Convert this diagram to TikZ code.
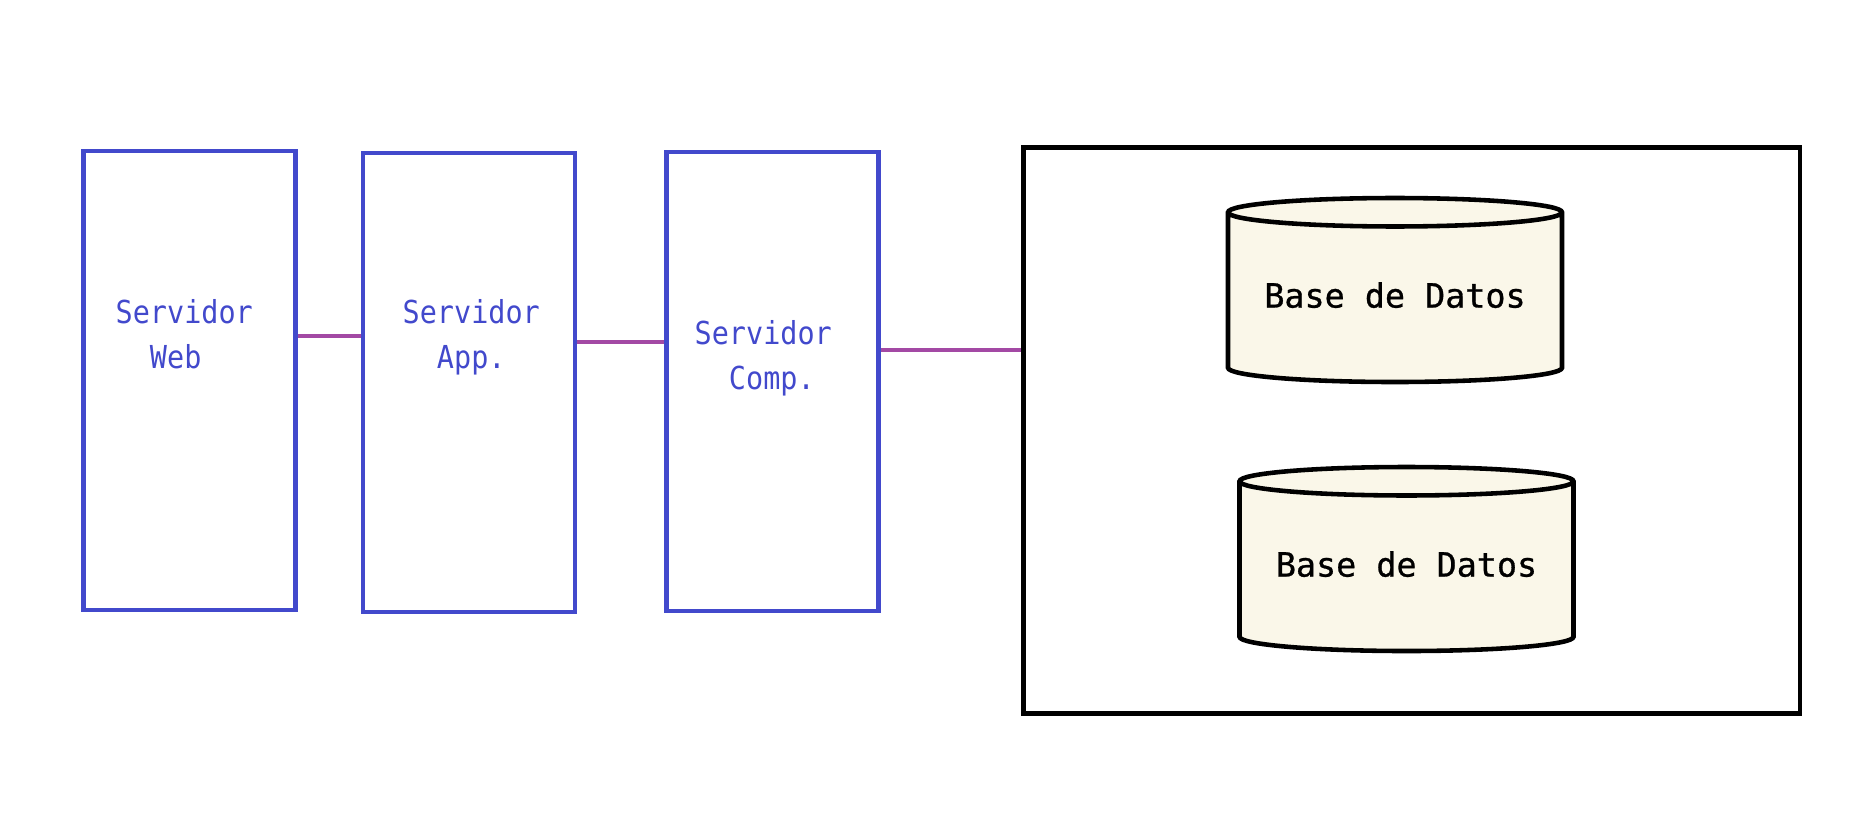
\documentclass[tikz,border=0pt]{standalone}
\usepackage{fontspec}
\usetikzlibrary{shapes.geometric}
\newfontfamily\srvfont[FakeStretch=0.9]{DejaVu Sans Mono}
\newfontfamily\dbfont[FakeBold=0.8]{DejaVu Sans Mono}

\definecolor{srvblue}{RGB}{66,73,204}
\definecolor{linkpurple}{RGB}{163,73,164}
\definecolor{dbcream}{RGB}{250,247,233}

\tikzset{
  server/.style={draw=srvblue, line width=1.3pt, rectangle, minimum width=2.12cm, minimum height=4.59cm, inner sep=0pt},
  srvlabel/.style={text=srvblue, font=\srvfont\fontsize{9pt}{12.8pt}\selectfont, align=left, anchor=base west, inner sep=0pt},
  link/.style={draw=linkpurple, line width=1.2pt},
  database/.style={cylinder, shape border rotate=90, aspect=0.1, draw, line width=1.3pt, fill=dbcream,
    minimum width=3.34cm, minimum height=1.84cm, anchor=shape center, text depth=0.12cm,
    font=\dbfont\fontsize{9.5pt}{11pt}\selectfont}
}

\begin{document}
\begin{tikzpicture}
\useasboundingbox (0,0) rectangle (18.54,-8.22);

\node[server] (web) at (1.893,-3.803) {};
\node[server] (app) at (4.692,-3.825) {};
\node[server] (comp) at (7.725,-3.813) {};
\node[draw, line width=1.3pt, minimum width=7.767cm, minimum height=5.66cm, inner sep=0pt] (store) at (14.117,-4.303) {};

\node[srvlabel] (webtxt) at (1.15,-3.68) {Servidor\\\hphantom{Se}Web};
\node[srvlabel] (apptxt) at (4.02,-3.68) {Servidor\\\hphantom{Se}App.};
\node[srvlabel] (comptxt) at (6.94,-3.89) {Servidor\\\hphantom{Se}Comp.};

\node[database] (db1) at (13.95,-2.90) {Base de Datos};
\node[database] (db2) at (14.065,-5.59) {Base de Datos};

% enlaces
\coordinate (w) at ([yshift=0.443cm]web.east);
\draw[link] (w) -- (w -| app.west);
\coordinate (p) at ([yshift=0.405cm]app.east);
\draw[link] (p) -- (p -| comp.west);
\coordinate (c) at ([yshift=0.313cm]comp.east);
\draw[link] (c) -- (c -| store.west);

\end{tikzpicture}
\end{document}
